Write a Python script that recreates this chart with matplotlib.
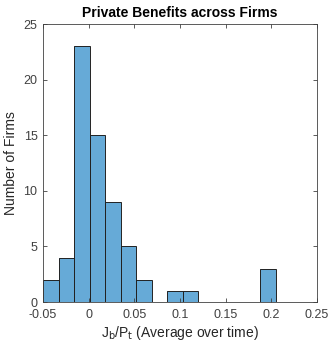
from matplotlib import pyplot as plt
import numpy as np

# histogram bins and counts
bin_start = -0.05
bin_width = 0.017
counts = [2, 4, 23, 15, 9, 5, 2, 0, 1, 1, 0, 0, 0, 0, 3]
xticks = [-0.05, 0, 0.05, 0.1, 0.15, 0.2, 0.25]
xticklabels = ['-0.05', '0', '0.05', '0.1', '0.15', '0.2', '0.25']
yticks = [0, 5, 10, 15, 20, 25]

plt.rcParams['font.family'] = ['Liberation Sans', 'DejaVu Sans']

edges = bin_start + bin_width * np.arange(len(counts) + 1)

fig = plt.figure(figsize=(3.32, 3.43), dpi=100)
ax = fig.add_axes([0.1295, 0.1195, 0.8255, 0.8105])
ax.bar(edges[:-1], counts, width=bin_width, align='edge',
       color='#0072BD', alpha=0.6, linewidth=0)
ax.bar(edges[:-1], counts, width=bin_width, align='edge',
       fill=False, edgecolor='#222222', linewidth=0.7)

ax.set_xlim(-0.05, 0.25)
ax.set_ylim(0, 25)
ax.set_xticks(xticks)
ax.set_xticklabels(xticklabels)
ax.set_yticks(yticks)
ax.tick_params(direction='in', top=True, right=True, length=3,
               labelsize=9, colors='#404040', width=0.6)
ax.tick_params(axis='x', pad=5)
ax.tick_params(axis='y', pad=4)
for s in ax.spines.values():
    s.set_color('#404040')
    s.set_linewidth(0.6)

ax.set_title('Private Benefits across Firms', fontsize=10, fontweight='bold', pad=5)
ax.set_xlabel(r'J$_{\rm b}$/P$_{\rm t}$ (Average over time)', fontsize=10,
              color='#262626', labelpad=2)
ax.set_ylabel('Number of Firms', fontsize=10, color='#262626')

fig.savefig('out.png', dpi=100)
